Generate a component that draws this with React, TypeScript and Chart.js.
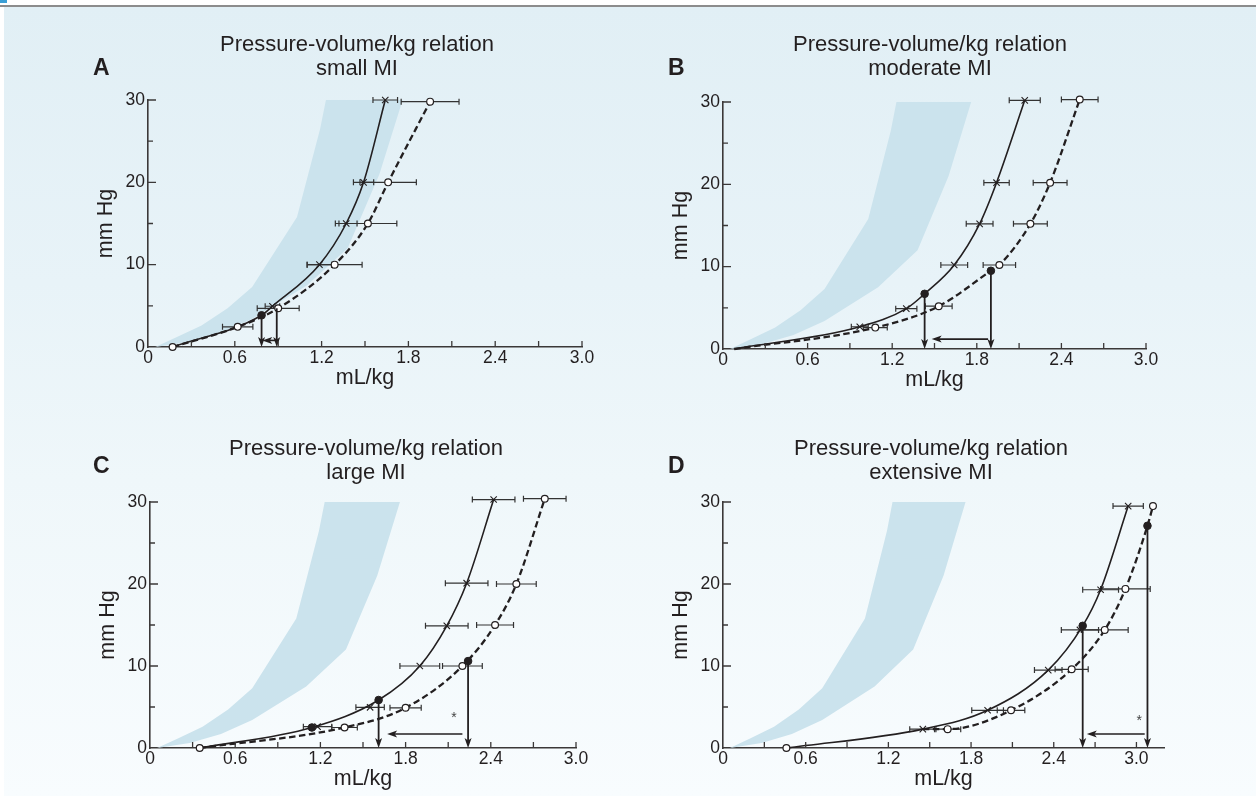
import React, { useEffect, useRef } from "react";
import { Chart, registerables } from "chart.js";

Chart.register(...registerables);

const FONT = "'Liberation Sans', Arial, Helvetica, sans-serif";
const INK = "#231f20";
const AXIS = "#3b3838";
const BAND = "rgb(203,227,237)";

// ---- axis ticks ----
const xTickValues = [0, 0.6, 1.2, 1.8, 2.4, 3.0];
const xTickLabels = ["0", "0.6", "1.2", "1.8", "2.4", "3.0"];
const xMinorTicks = [0.3, 0.6, 0.9, 1.2, 1.5, 1.8, 2.1, 2.4, 2.7, 3.0];
const yTickValues = [0, 10, 20, 30];
const yTickLabels = ["0", "10", "20", "30"];
const yMajorMarks = [10, 20, 30];
const yMinorMarks = [5, 15, 25];

// ---- normal range band (same in every panel) ----
const normalBandX = [0.05, 0.2, 0.37, 0.55, 0.72, 1.03, 1.19, 1.23, 1.76, 1.6, 1.38, 1.1, 0.72, 0.5, 0.28, 0.05];
const normalBandY = [0, 1.2, 2.6, 4.7, 7.3, 15.8, 26.5, 30, 30, 21, 12, 7.5, 3.4, 1.7, 0.6, 0];

// ---- texts ----
const panelLetters = ["A", "B", "C", "D"];
const panelTitles = [
  "Pressure-volume/kg relation",
  "Pressure-volume/kg relation",
  "Pressure-volume/kg relation",
  "Pressure-volume/kg relation",
];
const panelSubtitles = ["small MI", "moderate MI", "large MI", "extensive MI"];
const xAxisTitle = "mL/kg";
const yAxisTitle = "mm Hg";

// ---- Panel A: small MI ----
const aSolidX = [0.17, 0.785, 0.86, 1.185, 1.37, 1.49, 1.64];
const aSolidY = [0, 3.85, 4.95, 10, 15, 20, 30];
const aDashX = [0.17, 0.62, 0.9, 1.29, 1.52, 1.66, 1.95];
const aDashY = [0, 2.45, 4.7, 10, 15, 20, 29.8];
const aCrossX = [0.86, 1.185, 1.37, 1.49, 1.64];
const aCrossY = [4.95, 10, 15, 20, 30];
const aCrossErr = [0.05, 0.085, 0.075, 0.07, 0.085];
const aCircleX = [0.17, 0.62, 0.9, 1.29, 1.52, 1.66, 1.95];
const aCircleY = [0, 2.45, 4.7, 10, 15, 20, 29.8];
const aCircleErr = [0, 0.105, 0.145, 0.19, 0.2, 0.195, 0.2];
const aDotX = [0.785];
const aDotY = [3.85];
const aDropX = [0.785, 0.89];
const aDropY = [3.85, 4.7];
const aShift = [0.89, 0.79, 0.8]; // from x, to x, at y
const aStar: number[] = [];

// ---- Panel B: moderate MI ----
const bSolidX = [0.08, 0.97, 1.3, 1.43, 1.64, 1.82, 1.94, 2.14];
const bSolidY = [0, 2.7, 4.9, 6.7, 10.2, 15.2, 20.2, 30.2];
const bDashX = [0.08, 1.08, 1.53, 1.9, 1.96, 2.18, 2.32, 2.53];
const bDashY = [0, 2.6, 5.2, 9.5, 10.2, 15.2, 20.2, 30.3];
const bCrossX = [0.97, 1.3, 1.64, 1.82, 1.94, 2.14];
const bCrossY = [2.7, 4.9, 10.2, 15.2, 20.2, 30.2];
const bCrossErr = [0.06, 0.075, 0.095, 0.095, 0.09, 0.11];
const bCircleX = [1.08, 1.53, 1.96, 2.18, 2.32, 2.53];
const bCircleY = [2.6, 5.2, 10.2, 15.2, 20.2, 30.3];
const bCircleErr = [0.085, 0.095, 0.115, 0.12, 0.12, 0.13];
const bDotX = [1.43, 1.9];
const bDotY = [6.7, 9.5];
const bDropX = [1.43, 1.9];
const bDropY = [6.7, 9.5];
const bShift = [1.88, 1.48, 1.2];
const bStar: number[] = [];

// ---- Panel C: large MI ----
const cSolidX = [0.35, 1.14, 1.61, 1.9, 2.09, 2.23, 2.42];
const cSolidY = [0, 2.5, 5.85, 10, 14.9, 20.1, 30.3];
const cDashX = [0.35, 1.37, 1.8, 2.2, 2.43, 2.58, 2.78];
const cDashY = [0, 2.5, 4.9, 10, 15, 20, 30.4];
const cCrossX = [1.18, 1.55, 1.9, 2.09, 2.23, 2.42];
const cCrossY = [2.6, 4.96, 10, 14.9, 20.1, 30.3];
const cCrossErr = [0.1, 0.1, 0.14, 0.15, 0.15, 0.15];
const cCircleX = [0.35, 1.37, 1.8, 2.2, 2.43, 2.58, 2.78];
const cCircleY = [0, 2.5, 4.9, 10, 15, 20, 30.4];
const cCircleErr = [0, 0.09, 0.11, 0.14, 0.13, 0.14, 0.15];
const cDotX = [1.14, 1.61, 2.24];
const cDotY = [2.5, 5.85, 10.6];
const cDropX = [1.61, 2.24];
const cDropY = [5.85, 10.6];
const cShift = [2.2, 1.67, 1.7];
const cStar = [2.14, 3.6];

// ---- Panel D: extensive MI ----
const dSolidX = [0.46, 1.45, 1.92, 2.36, 2.61, 2.74, 2.94];
const dSolidY = [0, 2.3, 4.6, 9.5, 14.9, 19.3, 29.5];
const dDashX = [1.45, 1.63, 2.09, 2.53, 2.77, 2.92, 3.08, 3.12];
const dDashY = [2.3, 2.3, 4.6, 9.6, 14.4, 19.4, 27.1, 29.5];
const dCrossX = [1.45, 1.92, 2.36, 2.59, 2.74, 2.94];
const dCrossY = [2.3, 4.6, 9.5, 14.4, 19.3, 29.5];
const dCrossErr = [0.095, 0.115, 0.1, 0.135, 0.13, 0.11];
const dCircleX = [0.46, 1.63, 2.09, 2.53, 2.77, 2.92, 3.12];
const dCircleY = [0, 2.3, 4.6, 9.6, 14.4, 19.4, 29.5];
const dCircleErr = [0, 0.095, 0.1, 0.12, 0.17, 0.18, 0];
const dDotX = [2.61, 3.08];
const dDotY = [14.9, 27.1];
const dDropX = [2.61, 3.08];
const dDropY = [14.9, 27.1];
const dShift = [3.06, 2.64, 1.7];
const dStar = [3.02, 3.3];

const xMaxes = [3.0, 3.0, 3.0, 3.2];

type PanelData = {
  solidX: number[]; solidY: number[]; dashX: number[]; dashY: number[];
  crossX: number[]; crossY: number[]; crossErr: number[];
  circleX: number[]; circleY: number[]; circleErr: number[];
  dotX: number[]; dotY: number[]; dropX: number[]; dropY: number[];
  shift: number[]; star: number[];
};

const panelData: PanelData[] = [
  { solidX: aSolidX, solidY: aSolidY, dashX: aDashX, dashY: aDashY, crossX: aCrossX, crossY: aCrossY, crossErr: aCrossErr, circleX: aCircleX, circleY: aCircleY, circleErr: aCircleErr, dotX: aDotX, dotY: aDotY, dropX: aDropX, dropY: aDropY, shift: aShift, star: aStar },
  { solidX: bSolidX, solidY: bSolidY, dashX: bDashX, dashY: bDashY, crossX: bCrossX, crossY: bCrossY, crossErr: bCrossErr, circleX: bCircleX, circleY: bCircleY, circleErr: bCircleErr, dotX: bDotX, dotY: bDotY, dropX: bDropX, dropY: bDropY, shift: bShift, star: bStar },
  { solidX: cSolidX, solidY: cSolidY, dashX: cDashX, dashY: cDashY, crossX: cCrossX, crossY: cCrossY, crossErr: cCrossErr, circleX: cCircleX, circleY: cCircleY, circleErr: cCircleErr, dotX: cDotX, dotY: cDotY, dropX: cDropX, dropY: cDropY, shift: cShift, star: cStar },
  { solidX: dSolidX, solidY: dSolidY, dashX: dDashX, dashY: dDashY, crossX: dCrossX, crossY: dCrossY, crossErr: dCrossErr, circleX: dCircleX, circleY: dCircleY, circleErr: dCircleErr, dotX: dDotX, dotY: dDotY, dropX: dDropX, dropY: dDropY, shift: dShift, star: dStar },
];

// ---- layout (pixel geometry of each panel) ----
const PAD_L = 80, PAD_T = 85, PAD_R = 40, PAD_B = 48;
const layouts = [
  { left: 148, right: 582, top: 100, bottom: 347, titleX: 357, base1: 51, base2: 75, letterX: 93, letterBase: 75 },
  { left: 723, right: 1146, top: 102, bottom: 349, titleX: 930, base1: 51, base2: 75, letterX: 668, letterBase: 75 },
  { left: 150, right: 576, top: 502, bottom: 748, titleX: 366, base1: 455, base2: 479, letterX: 93, letterBase: 473 },
  { left: 723, right: 1164, top: 502, bottom: 748, titleX: 931, base1: 455, base2: 479, letterX: 668, letterBase: 473 },
];

const pts = (xs: number[], ys: number[]) => xs.map((x, i) => ({ x, y: ys[i] }));

function arrowHead(ctx: CanvasRenderingContext2D, tx: number, ty: number, dx: number, dy: number, len: number, half: number) {
  const bx = tx - dx * len, by = ty - dy * len;
  const px = -dy, py = dx;
  ctx.beginPath();
  ctx.moveTo(tx, ty);
  ctx.lineTo(bx + px * half, by + py * half);
  ctx.lineTo(tx - dx * len * 0.75, ty - dy * len * 0.75);
  ctx.lineTo(bx - px * half, by - py * half);
  ctx.closePath();
  ctx.fill();
}

function makeDecor(idx: number) {
  const p = panelData[idx];
  const L = layouts[idx];
  const cLeft = L.left - PAD_L, cTop = L.top - PAD_T;
  return {
    id: "decor" + idx,
    afterDatasetDraw(chart: any, args: any) {
      if (chart.data.datasets[args.index].label !== "band") return;
      const ctx = chart.ctx as CanvasRenderingContext2D;
      const xs = chart.scales.x, ys = chart.scales.y;
      ctx.save();
      ctx.strokeStyle = "#333";
      ctx.lineWidth = 1.2;
      const bars = (X: number[], Y: number[], E: number[]) => {
        X.forEach((x, i) => {
          if (!E[i]) return;
          const y = ys.getPixelForValue(Y[i]);
          const x1 = xs.getPixelForValue(x - E[i]);
          const x2 = xs.getPixelForValue(x + E[i]);
          ctx.beginPath();
          ctx.moveTo(x1, y); ctx.lineTo(x2, y);
          ctx.moveTo(x1, y - 3); ctx.lineTo(x1, y + 3);
          ctx.moveTo(x2, y - 3); ctx.lineTo(x2, y + 3);
          ctx.stroke();
        });
      };
      bars(p.crossX, p.crossY, p.crossErr);
      bars(p.circleX, p.circleY, p.circleErr);
      ctx.restore();
    },
    afterDatasetsDraw(chart: any) {
      const ctx = chart.ctx as CanvasRenderingContext2D;
      const xs = chart.scales.x, ys = chart.scales.y;
      const y0 = ys.getPixelForValue(0);
      ctx.save();
      ctx.strokeStyle = INK;
      ctx.fillStyle = INK;
      ctx.lineWidth = 1.8;
      p.dropX.forEach((x, i) => {
        const px = xs.getPixelForValue(x);
        const py = ys.getPixelForValue(p.dropY[i]);
        ctx.beginPath();
        ctx.moveTo(px, py);
        ctx.lineTo(px, y0 - 6);
        ctx.stroke();
        arrowHead(ctx, px, y0, 0, 1, 10, 3.5);
      });
      if (p.shift.length === 3) {
        const x1 = xs.getPixelForValue(p.shift[0]);
        const x2 = xs.getPixelForValue(p.shift[1]);
        const y = ys.getPixelForValue(p.shift[2]);
        ctx.lineWidth = 1.6;
        ctx.beginPath();
        ctx.moveTo(x1, y);
        ctx.lineTo(x2 + 6, y);
        ctx.stroke();
        arrowHead(ctx, x2, y, -1, 0, 10, 3.5);
      }
      if (p.star.length === 2) {
        ctx.font = `14px ${FONT}`;
        ctx.textAlign = "center";
        ctx.textBaseline = "middle";
        ctx.fillStyle = "#444";
        ctx.fillText("*", xs.getPixelForValue(p.star[0]), ys.getPixelForValue(p.star[1]));
      }
      ctx.restore();
    },
    afterDraw(chart: any) {
      const ctx = chart.ctx as CanvasRenderingContext2D;
      const xs = chart.scales.x, ys = chart.scales.y;
      const { left, bottom } = chart.chartArea;
      ctx.save();
      ctx.strokeStyle = AXIS;
      ctx.lineWidth = 1.3;
      ctx.beginPath();
      xMinorTicks.forEach((v) => {
        if (v > xs.max) return;
        const px = xs.getPixelForValue(v);
        ctx.moveTo(px, bottom);
        ctx.lineTo(px, bottom - 6);
      });
      yMajorMarks.forEach((v) => {
        const py = ys.getPixelForValue(v);
        ctx.moveTo(left, py);
        ctx.lineTo(left + 8, py);
      });
      yMinorMarks.forEach((v) => {
        const py = ys.getPixelForValue(v);
        ctx.moveTo(left, py);
        ctx.lineTo(left + 5, py);
      });
      ctx.stroke();

      ctx.fillStyle = INK;
      ctx.textAlign = "center";
      ctx.textBaseline = "alphabetic";
      ctx.font = `22px ${FONT}`;
      ctx.fillText(panelTitles[idx], L.titleX - cLeft, L.base1 - cTop);
      ctx.fillText(panelSubtitles[idx], L.titleX - cLeft, L.base2 - cTop);
      ctx.textAlign = "left";
      ctx.font = `bold 23px ${FONT}`;
      ctx.fillText(panelLetters[idx], L.letterX - cLeft, L.letterBase - cTop);
      ctx.restore();
    },
  };
}

function makeConfig(idx: number): any {
  const p = panelData[idx];
  return {
    type: "line",
    data: {
      datasets: [
        { label: "dots", data: pts(p.dotX, p.dotY), showLine: false, pointStyle: "circle", pointRadius: 3.8, pointBackgroundColor: INK, pointBorderColor: INK, pointBorderWidth: 1, order: 0, clip: false },
        { label: "circles", data: pts(p.circleX, p.circleY), showLine: false, pointStyle: "circle", pointRadius: 3.4, pointBackgroundColor: "#ffffff", pointBorderColor: INK, pointBorderWidth: 1.2, order: 1, clip: false },
        { label: "crosses", data: pts(p.crossX, p.crossY), showLine: false, pointStyle: "crossRot", pointRadius: 4.5, pointBorderColor: INK, pointBorderWidth: 1.1, order: 1, clip: false },
        { label: "solid", data: pts(p.solidX, p.solidY), showLine: true, borderColor: INK, borderWidth: 1.6, pointRadius: 0, cubicInterpolationMode: "monotone", fill: false, order: 3, clip: false },
        { label: "dashed", data: pts(p.dashX, p.dashY), showLine: true, borderColor: INK, borderWidth: 2.3, borderDash: [6.5, 3.5], pointRadius: 0, cubicInterpolationMode: "monotone", fill: false, order: 3, clip: false },
        { label: "band", data: pts(normalBandX, normalBandY), showLine: true, borderWidth: 0, borderColor: "rgba(0,0,0,0)", backgroundColor: BAND, fill: "shape", pointRadius: 0, tension: 0, order: 10, clip: false },
      ],
    },
    options: {
      responsive: false,
      animation: false,
      devicePixelRatio: 1,
      events: [],
      layout: { padding: { left: 0, top: PAD_T, right: PAD_R, bottom: 0 } },
      plugins: { legend: { display: false }, tooltip: { enabled: false }, title: { display: false } },
      scales: {
        x: {
          type: "linear",
          min: 0,
          max: xMaxes[idx],
          afterBuildTicks: (s: any) => { s.ticks = xTickValues.map((v) => ({ value: v })); },
          afterFit: (s: any) => { s.height = PAD_B; },
          ticks: { autoSkip: false, maxRotation: 0, minRotation: 0, padding: 1, color: INK, font: { family: FONT, size: 17.5 }, callback: (_v: any, i: number) => xTickLabels[i] },
          grid: { display: false, drawTicks: false },
          border: { display: true, color: AXIS, width: 1.6 },
          title: { display: true, text: xAxisTitle, color: INK, font: { family: FONT, size: 21.5 }, padding: { top: 0, bottom: 4 } },
        },
        y: {
          type: "linear",
          min: 0,
          max: 30,
          afterBuildTicks: (s: any) => { s.ticks = yTickValues.map((v) => ({ value: v })); },
          afterFit: (s: any) => { s.width = PAD_L; },
          ticks: { autoSkip: false, padding: 3, color: INK, font: { family: FONT, size: 17.5 }, callback: (_v: any, i: number) => yTickLabels[i] },
          grid: { display: false, drawTicks: false },
          border: { display: true, color: AXIS, width: 1.6 },
          title: { display: true, text: yAxisTitle, color: INK, font: { family: FONT, size: 21.5 }, padding: { top: 25, bottom: 0 } },
        },
      },
    },
    plugins: [makeDecor(idx)],
  };
}

function Panel({ idx }: { idx: number }) {
  const ref = useRef<HTMLCanvasElement>(null);
  const L = layouts[idx];
  const left = L.left - PAD_L;
  const top = L.top - PAD_T;
  const width = L.right + PAD_R - left;
  const height = L.bottom + PAD_B - top;
  useEffect(() => {
    const chart = new Chart(ref.current as HTMLCanvasElement, makeConfig(idx));
    return () => chart.destroy();
  }, [idx]);
  return (
    <canvas
      ref={ref}
      width={width}
      height={height}
      style={{ position: "absolute", left, top, width, height }}
    />
  );
}

export default function App() {
  return (
    <div style={{ position: "fixed", left: 0, top: 0, width: 1256, height: 796, background: "#ffffff", overflow: "hidden" }}>
      <div style={{ position: "absolute", left: 0, top: 0, width: 7, height: 3, background: "#3a9fd6" }} />
      <div style={{ position: "absolute", left: 0, top: 5, width: 1256, height: 2, background: "#8c8c8c" }} />
      <div
        style={{
          position: "absolute",
          left: 4,
          top: 7,
          width: 1252,
          height: 789,
          background: "linear-gradient(to bottom, #e1eff5 0%, #e8f3f8 35%, #eff7fa 60%, #f8fcfe 100%)",
        }}
      />
      {[0, 1, 2, 3].map((i) => (
        <Panel key={i} idx={i} />
      ))}
    </div>
  );
}
